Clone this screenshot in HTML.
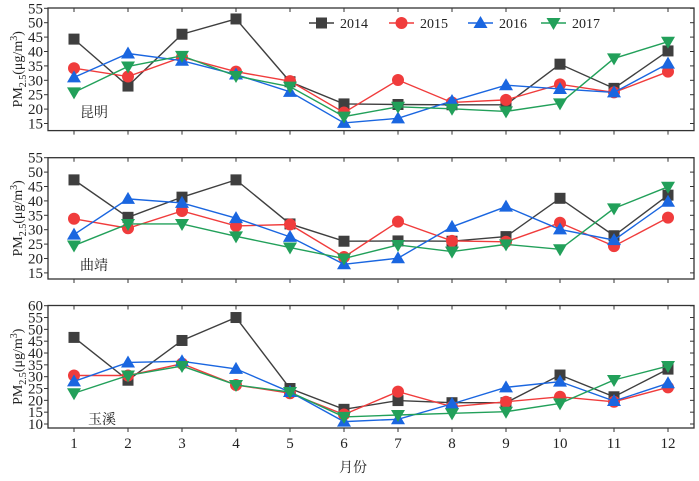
<!DOCTYPE html>
<html><head><meta charset="utf-8"><style>
body{margin:0;background:#fff}
svg text{font-family:"Liberation Serif","Noto Serif CJK SC",serif;fill:#222}
</style></head><body>
<svg id="chart" width="699" height="476"></svg>
<script>
const months=[1,2,3,4,5,6,7,8,9,10,11,12];
const years=["2014","2015","2016","2017"];
const kunming2014=[44.3,28,46,51.3,29.5,21.8,21.6,21.5,21.5,35.6,27.2,40.2];
const kunming2015=[34.2,31.3,38,33,29.7,18.8,30.1,22.3,23.2,28.6,25.8,33];
const kunming2016=[31,39.3,36.8,32,26,15.2,16.8,22.8,28.3,27,25.8,35.8];
const kunming2017=[25.8,34.8,38.5,31.5,27.8,17.4,20.8,20.1,19.2,22,37.6,43.4];
const qujing2014=[47.3,34.3,41.3,47.3,32,26,26.1,26,27.6,40.9,27.9,42];
const qujing2015=[33.8,30.5,36.5,31.3,31.8,20.5,32.8,26.1,25.8,32.4,24.3,34.2];
const qujing2016=[28.3,40.7,39.3,34,27.5,18,20.1,31,38,30.1,26.4,39.7];
const qujing2017=[24.5,32,32,27.7,23.8,20,24.7,22.4,24.9,23.2,37.4,44.9];
const yuxi2014=[46.6,28.5,45.3,55,25,16.2,19.9,19,19,30.7,21.5,33.2];
const yuxi2015=[30.5,30.5,35.5,26.5,23,14,23.7,17.3,19.4,21.5,19.4,25.5];
const yuxi2016=[28,36,36.5,33.3,23.5,11,12,18.5,25.5,27.9,19.7,27.2];
const yuxi2017=[23,30.5,34.5,26.5,23.5,13,13.8,14.5,15.2,18.7,28.6,34.5];
const ticksA=[15,20,25,30,35,40,45,50,55];
const ticksC=[10,15,20,25,30,35,40,45,50,55,60];

const NS="http://www.w3.org/2000/svg";
const svg=document.getElementById('chart');
const colors=["#3f3f3f","#f03c3c","#1a66e0","#22a05a"];
const L=48,R=694;
function xs(m){return 74+(m-1)*54;}
function mk(t,a,p){const e=document.createElementNS(NS,t);for(const k in a)e.setAttribute(k,a[k]);(p||svg).appendChild(e);return e;}
function marker(g,k,x,y){
  const c=colors[k];let e;
  if(k===0)e=mk('rect',{x:x-5.5,y:y-5.5,width:11,height:11,fill:c},g);
  else if(k===1)e=mk('circle',{cx:x,cy:y,r:6,fill:c},g);
  else if(k===2)e=mk('path',{d:`M${x},${y-7}L${x+7},${y+5}L${x-7},${y+5}Z`,fill:c},g);
  else e=mk('path',{d:`M${x},${y+7}L${x+7},${y-5}L${x-7},${y-5}Z`,fill:c},g);
  return e;
}
const panels=[
 {name:'kunming',label:'昆明',top:8,bot:130.6,vTop:55,v15:15,ppu:2.88,ref:[8.3,55],ticks:ticksA,series:[kunming2014,kunming2015,kunming2016,kunming2017],lx:80,ly:117},
 {name:'qujing',label:'曲靖',top:157.7,bot:279,ppu:2.88,ref:[157.7,55],ticks:ticksA,series:[qujing2014,qujing2015,qujing2016,qujing2017],lx:80,ly:270},
 {name:'yuxi',label:'玉溪',top:305.5,bot:428,ppu:2.366,ref:[305.7,60],ticks:ticksC,series:[yuxi2014,yuxi2015,yuxi2016,yuxi2017],lx:88,ly:424}
];
panels.forEach((p,pi)=>{
  const ys=v=>p.ref[0]+(p.ref[1]-v)*p.ppu;
  const g=mk('g',{});
  
  
  const box=mk('rect',{x:L,y:p.top,width:R-L,height:p.bot-p.top,fill:'none',stroke:'#333','stroke-width':1.3},g);
  
  
  p.ticks.forEach(t=>{
    const y=ys(t);
    mk('line',{x1:L-4,x2:L,y1:y,y2:y,stroke:'#333'},g);
    mk('line',{x1:R-4,x2:R,y1:y,y2:y,stroke:'#333'},g);
    const tx=mk('text',{x:L-5,y:y+5,'text-anchor':'end','font-size':15},g);
    tx.textContent=t;
    
    
  });
  months.forEach(m=>{
    const x=xs(m);
    mk('line',{x1:x,x2:x,y1:p.bot,y2:p.bot+4,stroke:'#333'},g);
    mk('line',{x1:x,x2:x,y1:p.top,y2:p.top+4,stroke:'#333'},g);
  });
  const yl=mk('text',{transform:`translate(22,${(p.top+p.bot)/2}) rotate(-90)`,'text-anchor':'middle','font-size':14},g);
  yl.innerHTML='PM<tspan font-size="10" dy="4">2.5</tspan><tspan dy="-4">(μg/m</tspan><tspan font-size="10" dy="-5">3</tspan><tspan dy="5">)</tspan>';
  
  
  const cl=mk('text',{x:p.lx,y:p.ly,'font-size':14},g);
  cl.textContent=p.label;
  
  
  p.series.forEach((s,k)=>{
    const sg=mk('g',{},g);
    
    
    mk('polyline',{points:s.map((v,i)=>xs(months[i])+','+ys(v)).join(' '),fill:'none',stroke:colors[k],'stroke-width':1.4},sg);
    s.forEach((v,i)=>{
      const e=marker(sg,k,xs(months[i]),ys(v));
      
      
    });
  });
  if(pi===2){
    months.forEach(m=>{
      const t=mk('text',{x:xs(m),y:448,'text-anchor':'middle','font-size':15},g);
      t.textContent=m;
      
      
    });
  }
});
const xt=mk('text',{x:353,y:472,'text-anchor':'middle','font-size':14});
xt.textContent='月份';


const legX=[309,389,468,541];
years.forEach((y,k)=>{
  const g=mk('g',{});
  
  
  mk('line',{x1:legX[k],x2:legX[k]+25,y1:23,y2:23,stroke:colors[k],'stroke-width':1.4},g);
  marker(g,k,legX[k]+12.5,23);
  const t=mk('text',{x:legX[k]+31,y:28,'font-size':14},g);
  t.textContent=y;
});
</script>
</body></html>
